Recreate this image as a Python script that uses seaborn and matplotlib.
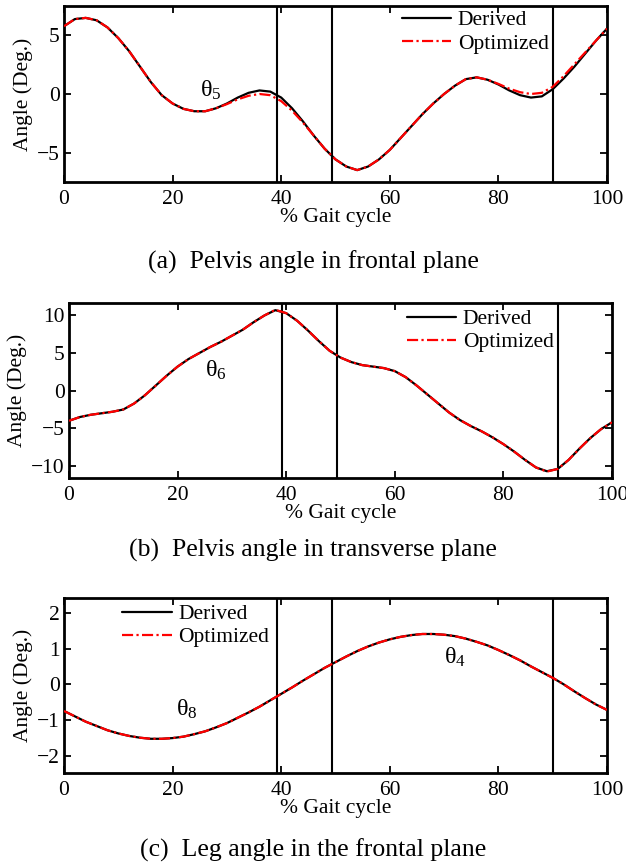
import numpy as np
import pandas as pd
import matplotlib
matplotlib.use("Agg")
import matplotlib.pyplot as plt
import seaborn as sns

# ---------------- data ----------------
gait = [0, 2, 4, 6, 8, 10, 12, 14, 16, 18, 20, 22, 24, 26, 28, 30, 32, 34, 36, 38, 40,
        42, 44, 46, 48, 50, 52, 54, 56, 58, 60, 62, 64, 66, 68, 70, 72, 74, 76, 78, 80,
        82, 84, 86, 88, 90, 92, 94, 96, 98, 100]

pelvis_frontal_derived = [5.7, 6.3, 6.4, 6.2, 5.6, 4.7, 3.6, 2.3, 1.0, -0.1, -0.8, -1.25, -1.45,
                          -1.45, -1.2, -0.8, -0.3, 0.1, 0.3, 0.2, -0.3, -1.2, -2.3, -3.5, -4.6,
                          -5.5, -6.1, -6.4, -6.1, -5.5, -4.7, -3.7, -2.7, -1.7, -0.8, 0.0, 0.7,
                          1.25, 1.4, 1.2, 0.8, 0.3, -0.1, -0.3, -0.2, 0.4, 1.3, 2.3, 3.4, 4.5, 5.5]
pelvis_frontal_optimized = [5.7, 6.3, 6.4, 6.2, 5.6, 4.7, 3.6, 2.3, 1.0, -0.1, -0.8, -1.25, -1.45,
                            -1.45, -1.2, -0.85, -0.45, -0.15, 0.0, -0.1, -0.6, -1.4, -2.4, -3.5, -4.6,
                            -5.5, -6.1, -6.4, -6.1, -5.5, -4.7, -3.7, -2.7, -1.7, -0.8, 0.0, 0.7,
                            1.25, 1.4, 1.2, 0.85, 0.45, 0.15, 0.0, 0.1, 0.6, 1.5, 2.5, 3.5, 4.5, 5.5]

pelvis_transverse_derived = [-4.0, -3.5, -3.2, -3.0, -2.8, -2.5, -1.7, -0.6, 0.7, 2.0, 3.2, 4.2, 5.0,
                             5.8, 6.5, 7.3, 8.1, 9.1, 10.0, 10.7, 10.3, 9.3, 8.0, 6.6, 5.3,
                             4.4, 3.8, 3.4, 3.2, 3.0, 2.6, 1.8, 0.7, -0.5, -1.7, -2.9, -3.9,
                             -4.7, -5.4, -6.2, -7.1, -8.1, -9.2, -10.2, -10.7, -10.4, -9.2, -7.7,
                             -6.3, -5.1, -4.2]
pelvis_transverse_optimized = [-4.0, -3.5, -3.2, -3.0, -2.8, -2.5, -1.7, -0.6, 0.7, 2.0, 3.2, 4.2, 5.0,
                               5.8, 6.5, 7.3, 8.1, 9.1, 10.0, 10.75, 10.3, 9.3, 8.0, 6.6, 5.3,
                               4.4, 3.8, 3.4, 3.2, 3.0, 2.6, 1.8, 0.7, -0.5, -1.7, -2.9, -3.9,
                               -4.7, -5.4, -6.2, -7.1, -8.1, -9.2, -10.2, -10.75, -10.4, -9.2, -7.7,
                               -6.3, -5.1, -4.2]

leg_frontal_derived = [-0.75, -0.90, -1.05, -1.17, -1.29, -1.38, -1.45, -1.50, -1.53, -1.53, -1.51,
                       -1.47, -1.40, -1.32, -1.21, -1.09, -0.94, -0.79, -0.63, -0.45, -0.27,
                       -0.09, 0.10, 0.28, 0.46, 0.62, 0.78, 0.93, 1.06, 1.17, 1.26, 1.33, 1.38,
                       1.41, 1.41, 1.39, 1.35, 1.28, 1.19, 1.09, 0.96, 0.82, 0.67, 0.50, 0.34,
                       0.18, 0.0, -0.2, -0.39, -0.57, -0.72]
leg_frontal_optimized = list(leg_frontal_derived)

event_lines = [39.3, 49.3, 90.0]

panels = [
    dict(der=pelvis_frontal_derived, opt=pelvis_frontal_optimized, ylim=(-7.4, 7.4),
         yticks=[-5, 0, 5], rect=[64, 6, 607, 182],
         caption="(a)  Pelvis angle in frontal plane", cap_y=262,
         thetas=[(r"$\theta_5$", 25.0, -0.25)],
         leg_loc=(0.622, 0.975)),
    dict(der=pelvis_transverse_derived, opt=pelvis_transverse_optimized, ylim=(-11.6, 11.65),
         yticks=[-10, -5, 0, 5, 10], rect=[69, 303, 612, 478],
         caption="(b)  Pelvis angle in transverse plane", cap_y=550,
         thetas=[(r"$\theta_6$", 25.0, 1.9)],
         leg_loc=(0.622, 0.965)),
    dict(der=leg_frontal_derived, opt=leg_frontal_optimized, ylim=(-2.49, 2.42),
         yticks=[-2, -1, 0, 1, 2], rect=[64, 598, 607, 773],
         caption="(c)  Leg angle in the frontal plane", cap_y=850,
         thetas=[(r"$\theta_8$", 20.7, -0.88), (r"$\theta_4$", 70.0, 0.58)],
         leg_loc=(0.107, 0.965)),
]

# ---------------- style ----------------
sns.set_style("ticks")
plt.rcParams["font.family"] = ["Liberation Serif", "DejaVu Serif"]
plt.rcParams["mathtext.fontset"] = "custom"
plt.rcParams["mathtext.rm"] = "Liberation Serif"
plt.rcParams["mathtext.it"] = "Liberation Serif"
plt.rcParams["font.size"] = 15
for k in ["axes.edgecolor", "xtick.color", "ytick.color", "text.color", "axes.labelcolor"]:
    plt.rcParams[k] = "black"

W, H = 626, 868
fig = plt.figure(figsize=(W / 100, H / 100), dpi=100)

FS = 15.5
for i, p in enumerate(panels):
    l, t, r, b = p["rect"]
    ax = fig.add_axes([l / W, 1 - b / H, (r - l) / W, (b - t) / H])
    df = pd.DataFrame({"gait": gait, "Derived": p["der"], "Optimized": p["opt"]})
    for xv in event_lines:
        ax.axvline(xv, color="black", lw=1.5, zorder=1)
    sns.lineplot(data=df, x="gait", y="Derived", ax=ax, color="black", lw=1.6,
                 label="Derived", zorder=3)
    sns.lineplot(data=df, x="gait", y="Optimized", ax=ax, color="red", lw=1.6,
                 dashes=False, label="Optimized", zorder=4)
    ax.lines[-1].set_dashes((5, 1.5, 1, 1.5))
    ax.set_xlim(0, 100)
    ax.set_ylim(*p["ylim"])
    ax.set_xticks([0, 20, 40, 60, 80, 100])
    ax.set_yticks(p["yticks"])
    ax.set_yticklabels([str(v).replace("-", "\u2212") for v in p["yticks"]])
    ax.tick_params(direction="in", length=5, width=1.3, top=True, right=True,
                   labelsize=FS)
    ax.tick_params(axis="x", pad=6)
    ax.tick_params(axis="y", pad=3)
    for s in ax.spines.values():
        s.set_linewidth(2.0)
    ax.set_xlabel("% Gait cycle", fontsize=FS, labelpad=-1)
    ax.set_ylabel("Angle (Deg.)", fontsize=FS, labelpad=3)
    for txt, tx, ty in p["thetas"]:
        ax.text(tx, ty, txt, fontsize=FS + 2)
    ax.legend(loc="upper left", bbox_to_anchor=p["leg_loc"], frameon=False,
              fontsize=FS, handlelength=2.3, handletextpad=0.3,
              labelspacing=0.15, borderpad=0, borderaxespad=0)
    fig.text(313 / W, 1 - p["cap_y"] / H, p["caption"], fontsize=18.5,
             ha="center", va="center")

fig.savefig("out.png", dpi=100)
